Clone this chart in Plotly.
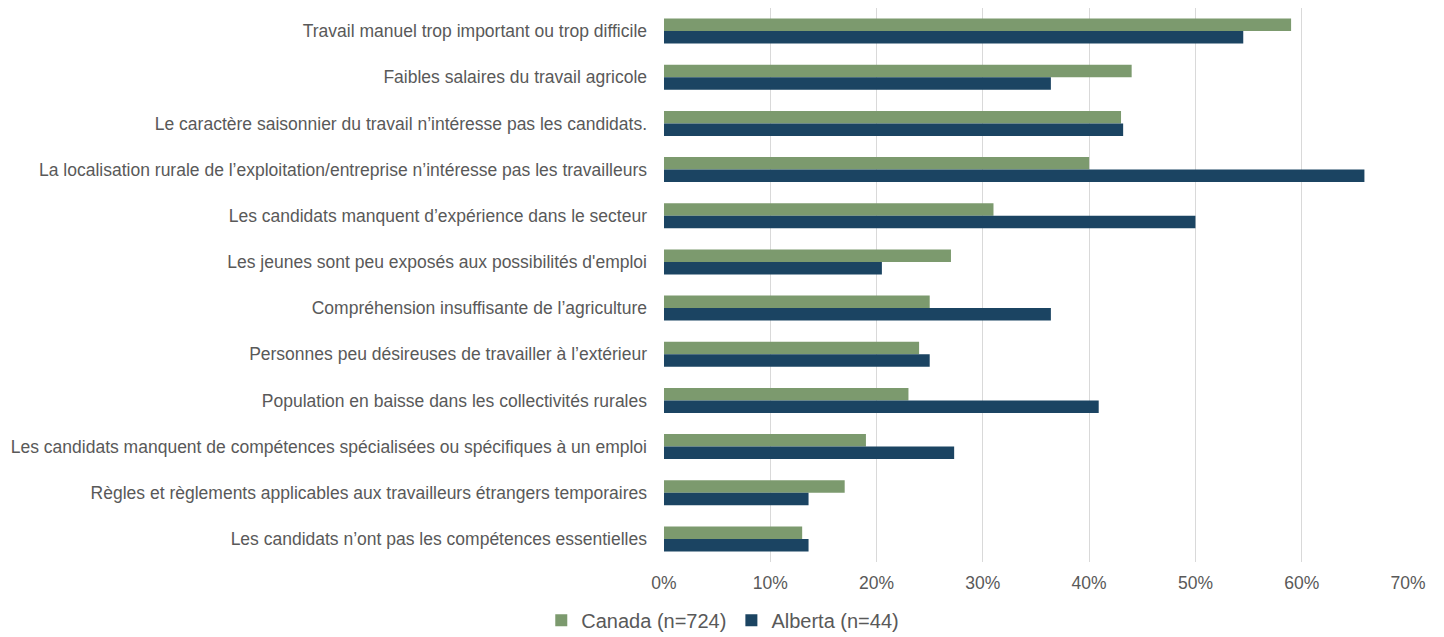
import plotly.graph_objects as go

categories = [
    "Travail manuel trop important ou trop difficile",
    "Faibles salaires du travail agricole",
    "Le caractère saisonnier du travail n’intéresse pas les candidats.",
    "La localisation rurale de l’exploitation/entreprise n’intéresse pas les travailleurs",
    "Les candidats manquent d’expérience dans le secteur",
    "Les jeunes sont peu exposés aux possibilités d'emploi",
    "Compréhension insuffisante de l’agriculture",
    "Personnes peu désireuses de travailler à l’extérieur",
    "Population en baisse dans les collectivités rurales",
    "Les candidats manquent de compétences spécialisées ou spécifiques à un emploi",
    "Règles et règlements applicables aux travailleurs étrangers temporaires",
    "Les candidats n’ont pas les compétences essentielles",
]
canada = [0.59, 0.44, 0.43, 0.40, 0.31, 0.27, 0.25, 0.24, 0.23, 0.19, 0.17, 0.13]
alberta = [0.545, 0.364, 0.432, 0.659, 0.50, 0.205, 0.364, 0.25, 0.409, 0.273, 0.136, 0.136]
series_names = ["Canada (n=724)", "Alberta (n=44)"]
tick_vals = [0, 0.1, 0.2, 0.3, 0.4, 0.5, 0.6, 0.7]
tick_text = ["0%", "10%", "20%", "30%", "40%", "50%", "60%", "70%"]

fig = go.Figure()
fig.add_trace(go.Bar(y=categories, x=canada, orientation="h", name=series_names[0],
                     marker=dict(color="#7C9A6E", line=dict(width=0))))
fig.add_trace(go.Bar(y=categories, x=alberta, orientation="h", name=series_names[1],
                     marker=dict(color="#1B4462", line=dict(width=0))))

fig.update_layout(
    width=1436, height=629,
    barmode="group", bargap=0.46, bargroupgap=0,
    plot_bgcolor="white", paper_bgcolor="white",
    margin=dict(l=656, r=36, t=0, b=75, autoexpand=False),
    font=dict(family="Liberation Sans, Arial, sans-serif", size=17.5, color="#595959"),
    legend=dict(orientation="h", x=0.079, xanchor="center", y=-0.07, yanchor="top",
                font=dict(size=20, color="#595959"), traceorder="normal",
                itemwidth=30, bgcolor="rgba(0,0,0,0)"),
    showlegend=True,
)
fig.update_xaxes(range=[0, 0.7], tickvals=tick_vals, ticktext=tick_text,
                 showgrid=True, gridcolor="#D9D9D9", gridwidth=1,
                 zeroline=False, showline=False, ticks="", ticklabelstandoff=8,
                 tickfont=dict(size=17.5, color="#595959"))
fig.update_yaxes(autorange="reversed", showgrid=False, zeroline=False,
                 showline=False, ticks="", ticklabelstandoff=16,
                 tickfont=dict(size=17.5, color="#595959"))

fig.write_html("out.html")
